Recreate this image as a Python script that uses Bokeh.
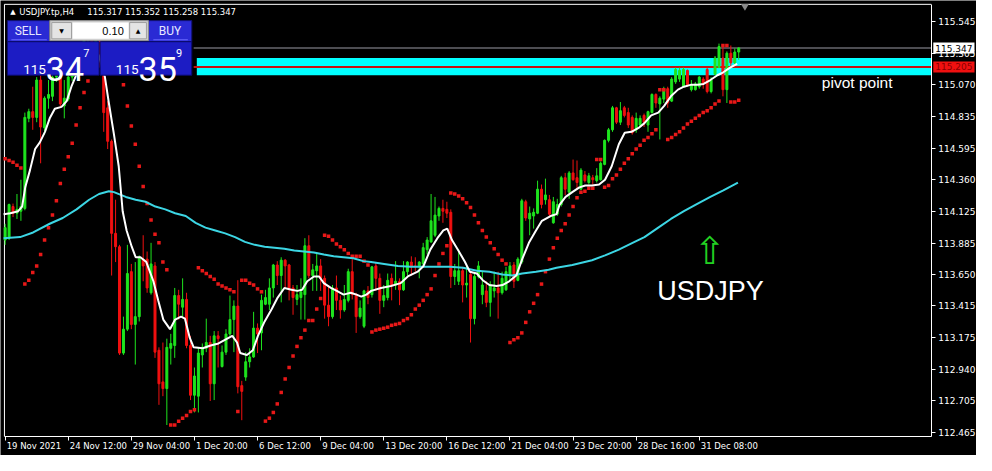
from bokeh.plotting import figure
from bokeh.models import Range1d, FixedTicker, PrintfTickFormatter, Label, LinearAxis, ColumnDataSource
from bokeh.core.properties import value
from bokeh.embed import file_html
from bokeh.resources import INLINE

# ---------------- data (USDJPY.tp, H4) ----------------
symbol = "USDJPY.tp,H4"
header_ohlc = "115.317 115.352 115.258 115.347"

opens = [
    113.908, 113.922, 114.159, 114.109, 114.124, 114.145, 114.820, 114.870, 114.827, 115.107,
    114.748, 114.971, 114.985, 115.129, 115.143, 114.913, 114.964, 115.129, 115.258, 115.344,
    115.287, 115.416, 115.452, 115.380, 115.430, 115.258, 114.899, 114.648, 113.958, 113.858,
    113.061, 113.240, 113.671, 113.276, 113.334, 113.765, 113.765, 113.513, 113.714, 113.082,
    112.845, 112.795, 113.097, 113.118, 113.492, 113.405, 113.463, 113.118, 112.745, 112.738,
    113.047, 113.097, 113.140, 112.831, 113.190, 112.960, 113.068, 113.204, 113.312, 113.413,
    112.817, 112.881, 112.996, 113.032, 113.248, 113.212, 113.427, 113.427, 113.549, 113.721,
    113.642, 113.757, 113.721, 113.549, 113.463, 113.477, 113.499, 113.865, 113.642, 113.678,
    113.714, 113.621, 113.420, 113.334, 113.549, 113.456, 113.384, 113.456, 113.671, 113.499,
    113.334, 113.262, 113.527, 113.499, 113.714, 113.621, 113.456, 113.477, 113.621, 113.571,
    113.599, 113.535, 113.671, 113.743, 113.714, 113.707, 113.729, 113.836, 113.894, 113.944,
    114.088, 114.145, 114.138, 114.116, 113.635, 113.599, 113.678, 113.571, 113.650, 113.319,
    113.635, 113.499, 113.527, 113.441, 113.527, 113.549, 113.513, 113.535, 113.642, 113.721,
    113.606, 113.743, 114.195, 114.066, 114.088, 114.109, 114.289, 114.210, 114.210, 114.037,
    114.102, 114.174, 114.375, 114.267, 114.411, 114.375, 114.289, 114.396, 114.339, 114.375,
    114.353, 114.360, 114.475, 114.655, 114.734, 114.899, 114.791, 114.899, 114.863, 114.827,
    114.734, 114.770, 114.842, 114.770, 114.863, 114.999, 114.928, 114.964, 115.042, 114.949,
    115.093, 115.114, 115.057, 115.179, 115.035, 115.035, 115.057, 115.114, 115.186, 115.021,
    115.150, 115.200, 115.272, 115.035, 115.308, 115.236, 115.317]

highs = [
    114.030, 114.181, 114.181, 114.253, 114.360, 114.863, 114.892, 115.057, 115.129, 115.143,
    114.985, 115.107, 115.165, 115.200, 115.200, 115.107, 115.165, 115.287, 115.380, 115.387,
    115.459, 115.502, 115.488, 115.473, 115.459, 115.287, 114.949, 114.662, 114.210, 113.872,
    113.334, 113.872, 113.729, 113.743, 113.793, 113.944, 113.822, 113.887, 113.743, 113.104,
    113.140, 113.169, 113.205, 113.549, 113.535, 113.621, 113.513, 113.190, 112.953, 113.097,
    113.133, 113.319, 113.190, 113.226, 113.226, 113.118, 113.240, 113.492, 113.456, 113.607,
    112.853, 113.068, 113.097, 113.370, 113.283, 113.499, 113.535, 113.621, 113.729, 113.750,
    113.779, 113.765, 113.729, 113.571, 113.571, 113.621, 113.922, 113.944, 113.729, 113.815,
    113.765, 113.642, 113.571, 113.571, 113.642, 113.492, 113.571, 113.693, 113.765, 113.513,
    113.456, 113.535, 113.563, 113.714, 113.743, 113.657, 113.571, 113.657, 113.657, 113.750,
    113.621, 113.750, 113.750, 113.786, 113.779, 113.750, 113.887, 113.930, 114.253, 114.231,
    114.159, 114.210, 114.195, 114.138, 113.729, 113.836, 113.707, 113.714, 113.678, 113.657,
    113.750, 113.671, 113.599, 113.599, 113.671, 113.671, 113.671, 113.707, 113.743, 113.743,
    113.779, 114.217, 114.210, 114.159, 114.145, 114.353, 114.324, 114.368, 114.246, 114.231,
    114.217, 114.389, 114.411, 114.425, 114.511, 114.504, 114.447, 114.425, 114.411, 114.396,
    114.447, 114.497, 114.662, 114.748, 114.913, 114.906, 114.942, 114.913, 114.899, 114.842,
    114.863, 114.842, 114.856, 114.877, 115.007, 115.007, 114.985, 115.057, 115.057, 115.129,
    115.200, 115.200, 115.200, 115.186, 115.107, 115.093, 115.136, 115.129, 115.200, 115.129,
    115.287, 115.380, 115.366, 115.322, 115.366, 115.344, 115.352]

lows = [
    113.872, 113.908, 114.080, 114.066, 114.052, 114.131, 114.791, 114.734, 114.791, 114.483,
    114.698, 114.892, 114.949, 115.093, 114.899, 114.820, 114.949, 115.100, 115.229, 115.244,
    115.272, 115.358, 115.330, 115.308, 115.200, 114.719, 114.590, 113.642, 113.743, 113.047,
    113.047, 113.226, 113.240, 112.975, 113.298, 113.599, 113.513, 113.499, 113.025, 112.673,
    112.738, 112.522, 112.975, 113.025, 113.312, 113.334, 113.097, 112.709, 112.616, 112.616,
    112.953, 113.068, 112.702, 112.709, 112.953, 112.953, 113.047, 113.190, 113.068, 112.759,
    112.558, 112.853, 112.953, 113.025, 113.061, 113.082, 113.420, 113.384, 113.477, 113.571,
    113.441, 113.549, 113.456, 113.348, 113.420, 113.312, 113.312, 113.621, 113.527, 113.527,
    113.527, 113.319, 113.262, 113.319, 113.384, 113.319, 113.370, 113.441, 113.463, 113.212,
    113.319, 113.248, 113.427, 113.477, 113.527, 113.355, 113.405, 113.456, 113.456, 113.535,
    113.420, 113.527, 113.642, 113.642, 113.671, 113.621, 113.707, 113.800, 113.887, 113.930,
    114.052, 114.037, 114.073, 113.549, 113.571, 113.571, 113.441, 113.477, 113.140, 113.276,
    113.621, 113.427, 113.405, 113.334, 113.477, 113.319, 113.499, 113.527, 113.599, 113.549,
    113.599, 113.729, 114.052, 113.944, 113.994, 114.102, 114.145, 114.174, 114.088, 114.030,
    114.088, 114.159, 114.245, 114.217, 114.353, 114.289, 114.281, 114.339, 114.324, 114.324,
    114.339, 114.353, 114.468, 114.640, 114.719, 114.777, 114.770, 114.827, 114.748, 114.698,
    114.712, 114.755, 114.755, 114.719, 114.856, 114.899, 114.662, 114.935, 114.899, 114.942,
    115.078, 115.093, 115.057, 115.057, 115.021, 115.028, 115.042, 115.042, 115.007, 115.007,
    115.143, 115.200, 114.985, 114.935, 115.200, 115.215, 115.258]

closes = [
    114.001, 114.174, 114.109, 114.138, 114.159, 114.827, 114.870, 114.827, 115.107, 114.755,
    114.971, 114.999, 115.129, 115.143, 114.928, 114.971, 115.129, 115.258, 115.344, 115.287,
    115.416, 115.452, 115.380, 115.430, 115.258, 114.863, 114.648, 113.958, 113.858, 113.061,
    113.240, 113.657, 113.276, 113.334, 113.779, 113.714, 113.549, 113.729, 113.068, 112.831,
    112.795, 113.104, 113.133, 113.492, 113.427, 113.463, 113.118, 112.745, 112.889, 113.061,
    113.104, 113.140, 112.831, 113.190, 113.169, 113.068, 113.204, 113.312, 113.413, 112.809,
    112.774, 112.996, 113.032, 113.248, 113.204, 113.456, 113.477, 113.549, 113.721, 113.642,
    113.757, 113.714, 113.549, 113.477, 113.499, 113.520, 113.865, 113.642, 113.685, 113.714,
    113.621, 113.420, 113.334, 113.549, 113.456, 113.384, 113.463, 113.671, 113.499, 113.334,
    113.398, 113.527, 113.477, 113.707, 113.621, 113.456, 113.492, 113.606, 113.571, 113.599,
    113.535, 113.671, 113.743, 113.707, 113.707, 113.743, 113.851, 113.908, 114.052, 114.095,
    114.145, 114.124, 114.109, 113.635, 113.678, 113.678, 113.571, 113.585, 113.319, 113.635,
    113.714, 113.571, 113.441, 113.571, 113.549, 113.513, 113.621, 113.671, 113.714, 113.599,
    113.765, 114.202, 114.073, 114.109, 114.116, 114.289, 114.174, 114.246, 114.102, 114.195,
    114.174, 114.375, 114.289, 114.411, 114.360, 114.339, 114.432, 114.353, 114.389, 114.360,
    114.389, 114.483, 114.655, 114.734, 114.899, 114.791, 114.877, 114.842, 114.770, 114.712,
    114.820, 114.820, 114.791, 114.870, 114.999, 114.935, 114.971, 115.042, 114.935, 115.114,
    115.186, 115.179, 115.186, 115.071, 115.071, 115.078, 115.129, 115.078, 115.021, 115.107,
    115.272, 115.358, 115.035, 115.308, 115.236, 115.317, 115.347]

# Parabolic SAR, one value per bar
sar = [
    114.518, 114.504, 114.490, 114.468, 114.447, 113.578, 113.607, 113.664, 113.714, 113.800,
    113.908, 114.001, 114.095, 114.202, 114.332, 114.439, 114.533, 114.633, 114.770, 114.899,
    115.014, 115.100, 115.179, 115.244, 115.294, 115.488, 115.445, 115.380, 115.287, 115.186,
    115.071, 114.913, 114.762, 114.626, 114.461, 114.310, 114.181, 114.059, 113.951, 113.887,
    113.743, 113.685, 112.522, 112.522, 112.551, 112.573, 112.594, 112.623, 112.637, 113.700,
    113.678, 113.657, 113.635, 113.614, 113.578, 113.563, 113.549, 113.535, 113.520, 112.623,
    113.607, 113.607, 113.585, 113.571, 113.542, 113.520, 112.551, 112.573, 112.616, 112.680,
    112.766, 112.867, 112.953, 113.039, 113.111, 113.176, 113.233, 113.305, 113.305, 113.391,
    113.470, 113.944, 113.937, 113.908, 113.879, 113.858, 113.836, 113.808, 113.786, 113.786,
    113.786, 113.750, 113.721, 113.219, 113.233, 113.240, 113.247, 113.255, 113.269, 113.276,
    113.283, 113.305, 113.319, 113.348, 113.391, 113.420, 113.456, 113.499, 113.542, 113.642,
    113.729, 113.808, 113.865, 114.260, 114.253, 114.238, 114.217, 114.188, 114.152, 114.095,
    114.037, 113.980, 113.930, 113.887, 113.843, 113.800, 113.757, 113.729, 113.140, 113.161,
    113.176, 113.212, 113.291, 113.370, 113.434, 113.499, 113.578, 113.671, 113.765, 113.851,
    113.922, 113.980, 114.030, 114.095, 114.159, 114.224, 114.267, 114.274, 114.296, 114.296,
    114.511, 114.511, 114.303, 114.317, 114.368, 114.396, 114.439, 114.483, 114.518, 114.554,
    114.590, 114.619, 114.655, 114.676, 114.705, 114.734, 115.035, 115.035, 114.662, 114.676,
    114.698, 114.719, 114.748, 114.777, 114.798, 114.820, 114.842, 114.863, 114.877, 114.899,
    114.928, 114.949, 115.366, 115.366, 114.942, 114.942, 114.956]

# fast moving average (white), sampled at bar positions
ma_fast_bar = [
    -0.4, 1.3, 3.3, 4.3, 5.1, 6.3, 7.6, 8.8, 10.1, 11.3,
    12.6, 14.3, 15.6, 16.8, 17.8, 19.3, 20.8, 22.3, 23.8, 25.3,
    26.3, 27.6, 28.8, 29.8, 30.8, 32.1, 33.1, 34.3, 35.8, 37.6,
    38.8, 40.1, 41.8, 43.1, 44.6, 45.6, 46.8, 47.8, 50.1, 52.1,
    54.1, 56.3, 57.6, 58.8, 59.6, 61.3, 62.8, 64.1, 65.8, 67.6,
    69.1, 70.8, 72.6, 74.1, 75.3, 76.6, 78.3, 79.6, 80.8, 82.6,
    84.1, 85.8, 87.6, 89.1, 90.3, 91.6, 92.8, 95.3, 97.8, 100.3,
    102.1, 104.6, 106.1, 107.8, 109.6, 111.1, 112.1, 113.3, 114.8, 116.6,
    117.8, 119.6, 121.1, 122.8, 124.6, 126.1, 127.8, 129.6, 131.1, 132.8,
    134.6, 136.1, 138.3, 139.8, 140.6, 142.1, 143.8, 145.6, 147.1, 148.8,
    150.6, 152.1, 153.8, 155.6, 157.1, 158.8, 160.6, 162.1, 163.8, 165.6,
    167.1, 168.8, 170.6, 172.1, 173.8, 175.6, 177.1, 178.8, 180.6, 182.1,
    183.8, 185.6]
ma_fast = [
    114.102, 114.109, 114.124, 114.159, 114.303, 114.432, 114.590, 114.640, 114.719, 114.820,
    114.892, 114.906, 114.949, 115.057, 115.129, 115.272, 115.358, 115.380, 115.287, 115.129,
    114.935, 114.698, 114.461, 114.124, 113.980, 113.858, 113.779, 113.779, 113.743, 113.599,
    113.456, 113.312, 113.240, 113.312, 113.334, 113.319, 113.176, 113.104, 113.097, 113.118,
    113.133, 113.169, 113.190, 113.140, 113.061, 113.047, 113.082, 113.190, 113.298, 113.391,
    113.477, 113.549, 113.535, 113.527, 113.535, 113.599, 113.635, 113.635, 113.585, 113.549,
    113.527, 113.499, 113.513, 113.499, 113.484, 113.499, 113.527, 113.549, 113.563, 113.585,
    113.635, 113.671, 113.714, 113.836, 113.922, 113.980, 113.994, 113.908, 113.836, 113.743,
    113.671, 113.657, 113.607, 113.571, 113.563, 113.571, 113.599, 113.642, 113.765, 113.887,
    113.980, 114.052, 114.088, 114.102, 114.174, 114.231, 114.267, 114.303, 114.317, 114.317,
    114.324, 114.360, 114.461, 114.626, 114.712, 114.719, 114.748, 114.784, 114.842, 114.863,
    114.913, 114.985, 115.035, 115.057, 115.071, 115.071, 115.078, 115.107, 115.143, 115.165,
    115.200, 115.229]

# slow moving average (cyan)
ma_slow_bar = [
    -0.4, 3.8, 7.1, 11.3, 14.6, 18.1, 21.3, 23.8, 26.3, 27.6,
    30.6, 33.1, 35.6, 38.1, 40.6, 43.1, 45.8, 48.3, 50.8, 53.3,
    55.8, 58.3, 60.8, 63.3, 65.8, 68.3, 70.8, 73.3, 75.8, 78.3,
    80.8, 83.3, 85.8, 88.3, 90.8, 92.8, 96.1, 99.6, 102.8, 106.1,
    109.6, 112.8, 116.1, 119.6, 122.8, 126.1, 128.6, 131.1, 134.6, 137.8,
    139.8, 143.8, 148.8, 152.1, 155.6, 159.6, 162.1, 165.6, 168.8, 172.1,
    175.6, 178.8, 182.1, 185.8]
ma_slow = [
    113.922, 113.930, 113.965, 114.030, 114.073, 114.138, 114.210, 114.253, 114.274, 114.267,
    114.231, 114.210, 114.195, 114.159, 114.138, 114.109, 114.088, 114.037, 114.001, 113.980,
    113.958, 113.930, 113.894, 113.872, 113.858, 113.851, 113.843, 113.829, 113.822, 113.815,
    113.800, 113.786, 113.779, 113.772, 113.750, 113.743, 113.729, 113.714, 113.707, 113.707,
    113.707, 113.707, 113.700, 113.678, 113.671, 113.650, 113.642, 113.657, 113.671, 113.685,
    113.700, 113.721, 113.757, 113.793, 113.836, 113.894, 113.930, 114.001, 114.066, 114.124,
    114.181, 114.231, 114.281, 114.339]

date_ticks = [0, 16, 32, 48, 64, 80, 96, 112, 128, 144, 160, 176]
date_labels = ["19 Nov 2021", "24 Nov 12:00", "29 Nov 04:00", "1 Dec 20:00", "6 Dec 12:00",
               "9 Dec 04:00", "13 Dec 20:00", "16 Dec 12:00", "21 Dec 04:00", "23 Dec 20:00",
               "28 Dec 16:00", "31 Dec 08:00"]
price_ticks = [112.465, 112.705, 112.940, 113.175, 113.415, 113.650, 113.885,
               114.125, 114.360, 114.595, 114.835, 115.070, 115.305, 115.545]

bid_price = 115.347
pivot_price = 115.205
pivot_zone_low = 115.143
pivot_zone_high = 115.272
pivot_zone_start = 48.6
lot_text = "0.10"
sell_quote = ["115", "34", "7"]
buy_quote = ["115", "35", "9"]

# ---------------- layout helpers (reference pixel -> chart coordinates) ----------------
def bx(X):
    return (X - 4.7) / 4.0

def py(Y):
    return 115.703 - Y / 139.3

SX = 0.986         # horizontal squeeze so the price scale fits the page
SY = 0.958         # vertical squeeze so the time scale fits the page
W, H = 976, 455
BAR_PX = 4.0 * SX

BULL = "#1ee41e"
BEAR = "#f01010"
TXT_FONT = "DejaVu Sans"

p = figure(width=W, height=H,
           x_range=Range1d(bx(0), bx(W / SX)), y_range=Range1d(py(H / SY), py(0)),
           output_backend="svg", toolbar_location=None,
           x_axis_location=None, y_axis_location=None,
           background_fill_color="black", border_fill_color="black",
           outline_line_color=None, min_border=0)
p.grid.visible = False

x_left, x_right = bx(4), bx(944)
y_bottom, y_top = py(455), py(4)

# price scale on the right edge of the chart box
ya = LinearAxis(fixed_location=x_right, bounds=(y_bottom, y_top),
                ticker=FixedTicker(ticks=price_ticks),
                formatter=PrintfTickFormatter(format="%.3f"),
                major_label_text_color="white", major_label_text_font=TXT_FONT,
                major_label_text_font_size="9px", major_label_standoff=3,
                major_tick_out=4, major_tick_in=0, minor_tick_line_color=None,
                axis_line_color="white", major_tick_line_color="white")
p.add_layout(ya, "right")

# time scale: tick marks at the bars, labels start just right of each mark
CHAR_EM = {" ": 0.318, ":": 0.337, "N": 0.748, "o": 0.612, "v": 0.592,
           "D": 0.770, "e": 0.615, "c": 0.550}
DATE_PX = 8.5
def label_center(t, s):
    w = sum(CHAR_EM.get(ch, 0.636) for ch in s) * DATE_PX
    return round(t + (1.5 + w / 2.0) / BAR_PX, 3)
centers = [label_center(t, s) for t, s in zip(date_ticks, date_labels)]
xa = LinearAxis(fixed_location=y_bottom, bounds=(x_left, x_right),
                ticker=FixedTicker(ticks=centers, minor_ticks=date_ticks),
                major_label_overrides={c: s for c, s in zip(centers, date_labels)},
                major_label_text_color="white", major_label_text_font=TXT_FONT,
                major_label_text_font_size="%spx" % DATE_PX, major_label_standoff=1,
                major_tick_out=0, major_tick_in=0, major_tick_line_color=None,
                minor_tick_out=4, minor_tick_in=0, minor_tick_line_color="white",
                axis_line_color="white")
p.add_layout(xa, "below")

# chart box (top and left edges; right and bottom come from the scales)
p.segment(x0=[x_left, x_left], y0=[y_top, y_bottom], x1=[x_right, x_left], y1=[y_top, y_top],
          line_color="white", line_width=1)

# pivot zone, pivot line and bid line
p.quad(left=[pivot_zone_start], right=[x_right], bottom=[pivot_zone_low], top=[pivot_zone_high],
       fill_color="#00ffff", line_color=None)
p.segment(x0=[pivot_zone_start - 0.8], y0=[pivot_price], x1=[x_right], y1=[pivot_price],
          line_color="#c81010", line_width=2)
p.segment(x0=[pivot_zone_start - 0.8], y0=[bid_price], x1=[x_right], y1=[bid_price],
          line_color="#9a9aa4", line_width=1)

# candles
idx = list(range(len(closes)))
colors = [BULL if c >= o else BEAR for o, c in zip(opens, closes)]
src = ColumnDataSource(dict(
    x=idx, high=highs, low=lows,
    top=[max(o, c) for o, c in zip(opens, closes)],
    bottom=[min(o, c) for o, c in zip(opens, closes)],
    color=colors))
p.segment(x0="x", y0="low", x1="x", y1="high", line_color="color", line_width=1, source=src)
p.vbar(x="x", width=0.5, top="top", bottom="bottom", fill_color="color",
       line_color="color", line_width=1, source=src)

# parabolic SAR
p.scatter(x=idx, y=sar, marker="square", size=3.5, fill_color="#e81818", line_color=None)

# moving averages
p.line(ma_slow_bar, ma_slow, line_color="#3cd6e4", line_width=2)
p.line(ma_fast_bar, ma_fast, line_color="white", line_width=2)

# ---------------- text objects on chart ----------------
def txt(X, Y, s, size, color="white", align="left", baseline="middle", font=TXT_FONT):
    p.text(x=[bx(X)], y=[py(Y)], text=[s], text_font=value(font), text_font_size=size,
           text_color=color, text_align=align, text_baseline=baseline)

def box(X0, Y0, X1, Y1, fill, line=None, lw=1):
    p.quad(left=[bx(X0)], right=[bx(X1)], top=[py(Y0)], bottom=[py(Y1)],
           fill_color=fill, line_color=line, line_width=lw)

txt(833, 86, "pivot point", "15.5px", font="Liberation Sans")
txt(720, 303, "USDJPY", "27px", align="center", font="Liberation Sans")
txt(719.5, 261, "\u21e7", "38px", color="#22d022", align="center")

p.scatter(x=[bx(755)], y=[py(6)], marker="inverted_triangle", size=8,
          fill_color="#8a8a8a", line_color=None)

# header
txt(10, 12.5, "\u25b2", "7px")
txt(19, 12.5, symbol, "8.5px")
txt(88, 12.5, header_ohlc, "8.5px")

# one-click trading panel
box(7, 21, 50, 43, "#2a2ad4", "#101070")
box(150, 21, 194, 43, "#2a2ad4", "#101070")
box(50, 21, 150, 42, "#d0d0d0", "#909090")
box(52, 23, 72, 40, "#e4e4e4", "#a0a0a0")
box(73, 23, 130, 40, "white", None)
box(131, 23, 148, 40, "#e4e4e4", "#a0a0a0")
box(7, 43, 100, 78, "#1c1cc4", "#0a0a6a")
box(101, 43, 194, 78, "#1c1cc4", "#0a0a6a")
p.segment(x0=[bx(11), bx(155)], y0=[py(41), py(41)], x1=[bx(47), bx(190)], y1=[py(41), py(41)],
          line_color="#6a6aff", line_width=1)
txt(28, 31.5, "SELL", "12px", color="#e8e8ff", align="center", font="Roboto")
txt(172, 31.5, "BUY", "12px", color="#e8e8ff", align="center", font="Roboto")
txt(62, 31.5, "\u25bc", "6px", color="black", align="center")
txt(139.5, 31, "\u25b2", "6px", color="black", align="center")
txt(125, 32, lot_text, "11px", color="black", align="right", font="Liberation Sans")
for x0, q in ((0, sell_quote), (94, buy_quote)):
    txt(23 + x0, 72, q[0], "13.5px", baseline="alphabetic", font="Roboto")
    txt(46 + x0, 72, q[1], "34px", baseline="alphabetic", font="Roboto")
    txt(84 + x0, 55, q[2], "11px", baseline="alphabetic", font="Roboto")

# price tags on the price scale
p.add_layout(Label(x=x_right, x_offset=2, y=bid_price, text="115.347", text_align="left",
                   text_baseline="middle", text_color="black", text_font=TXT_FONT,
                   text_font_size="9px", background_fill_color="white", padding=2))
p.add_layout(Label(x=x_right, x_offset=2, y=pivot_price, text="115.205", text_align="left",
                   text_baseline="middle", text_color="#8a0000", text_font=TXT_FONT,
                   text_font_size="9px", background_fill_color="#f01010", padding=2))

html = file_html(p, INLINE)
with open("out.html", "w", encoding="utf-8") as f:
    f.write(html)
